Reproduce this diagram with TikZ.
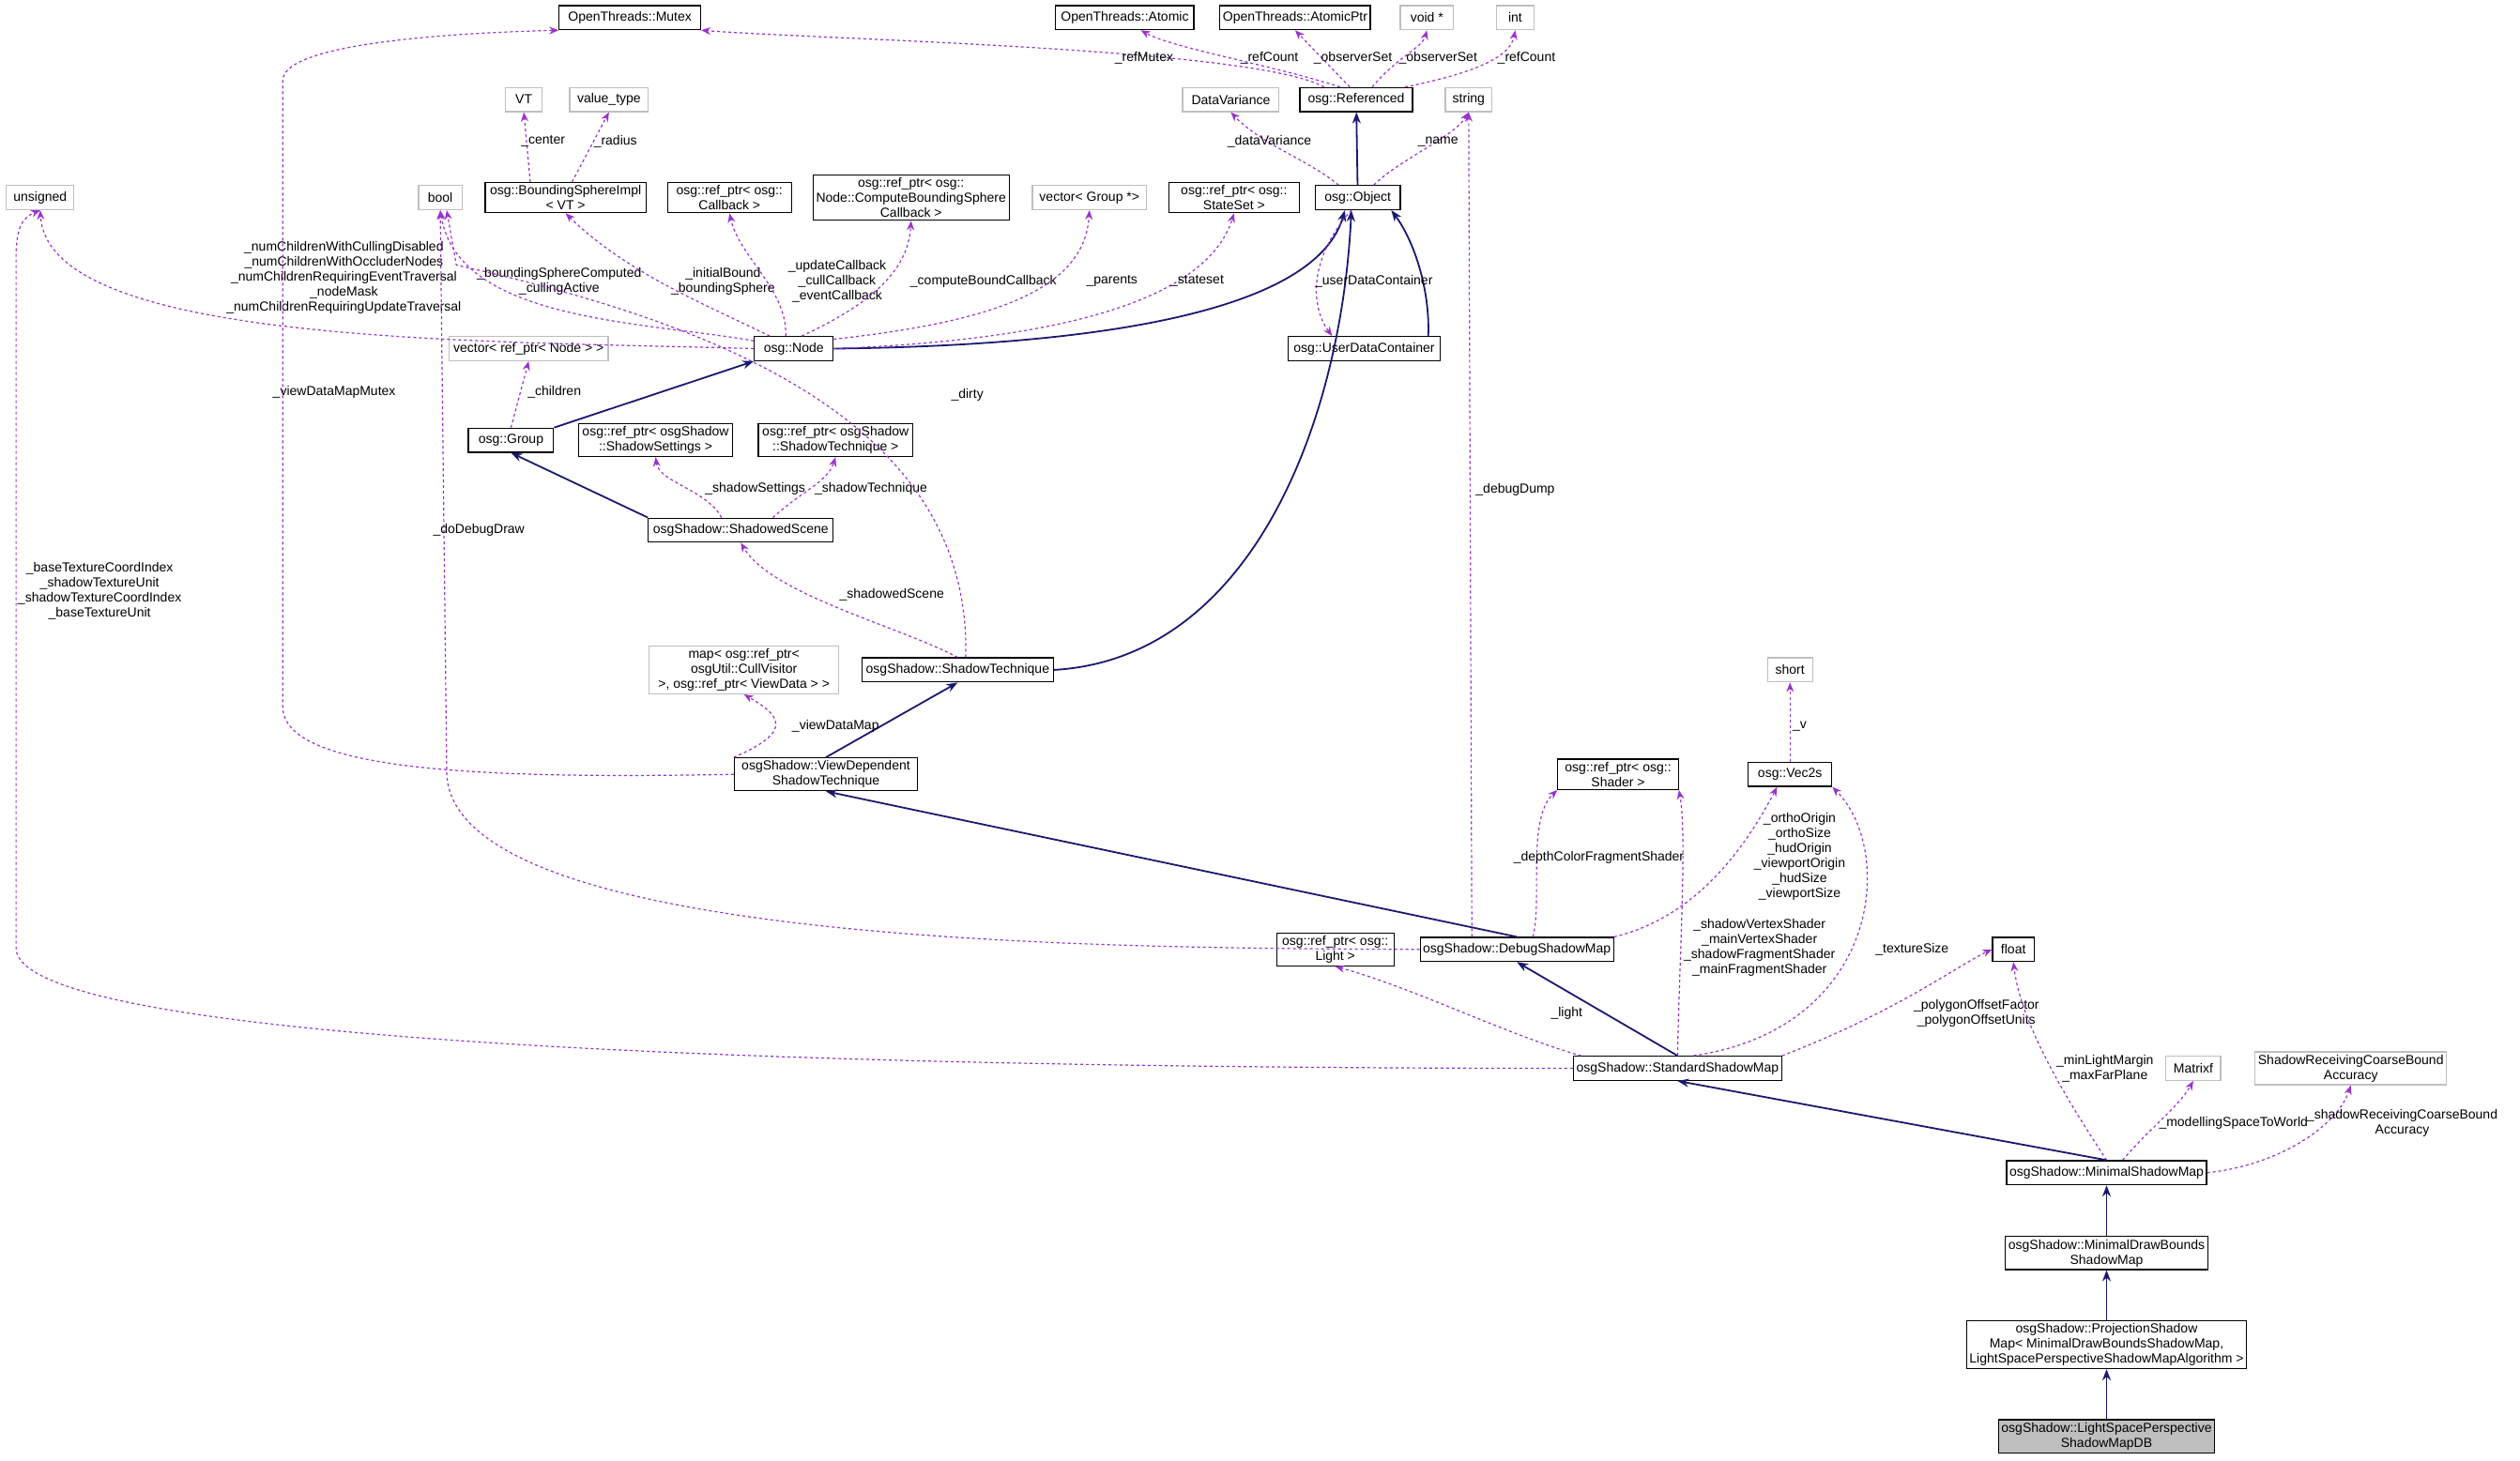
\documentclass[tikz,border=0pt]{standalone}
\usepackage{fontspec}
\setmainfont{Liberation Sans}
\usetikzlibrary{arrows.meta,calc}
\definecolor{dpurple}{HTML}{9A32CD}
\definecolor{dnavy}{HTML}{191970}
\definecolor{gborder}{HTML}{BFBFBF}
\tikzset{
 bx/.style={draw=black,line width=1.2pt,fill=white,font=\fontsize{14}{16}\selectfont,align=center,inner sep=3pt,minimum height={15*1.712pt},minimum width={#1*1.712pt}},
 gx/.style={bx=#1,draw=gborder},
 lab/.style={font=\fontsize{14}{16}\selectfont,align=center,inner sep=0pt},
 dep/.style={draw=dpurple,dashed,line width=1.2pt,-{Stealth[length=10pt,width=8pt]}},
 inh/.style={draw=dnavy,line width=1.8pt,-{Stealth[length=12pt,width=9pt]}},
}
\begin{document}
\begin{tikzpicture}[x=1.712pt,y=-1.712pt]
\useasboundingbox (0,0) rectangle (1568.3,909.4);
\node[bx=88] (mutex) at (392,11) {OpenThreads::Mutex};
\node[bx=86] (atomic) at (700,11) {OpenThreads::Atomic};
\node[bx=92] (atomicptr) at (806,11) {OpenThreads::AtomicPtr};
\node[gx=33] (voidp) at (888,11) {void *};
\node[gx=23] (int) at (943,11) {int};
\node[gx=23] (vt) at (326,62) {VT};
\node[gx=49] (valtype) at (379,62) {value\_type};
\node[gx=60] (datavar) at (766,62) {DataVariance};
\node[bx=70] (ref) at (844,62) {osg::Referenced};
\node[gx=29] (str) at (914,62) {string};
\node[gx=42] (unsigned) at (25,123) {unsigned};
\node[gx=27] (bool) at (274,123) {bool};
\node[bx=100] (bsi) at (352,123) {osg::BoundingSphereImpl\\< VT >};
\node[bx=77] (cb) at (454,123) {osg::ref\_ptr< osg::\\Callback >};
\node[bx=122] (cbs) at (567,123) {osg::ref\_ptr< osg::\\Node::ComputeBoundingSphere\\Callback >};
\node[gx=71] (vgroup) at (678,123) {vector< Group *>};
\node[bx=81] (ss) at (768,123) {osg::ref\_ptr< osg::\\StateSet >};
\node[bx=53] (obj) at (845,123) {osg::Object};
\node[bx=49] (node) at (494,217) {osg::Node};
\node[bx=95] (udc) at (849,217) {osg::UserDataContainer};
\node[gx=99] (vnode) at (329,217) {vector< ref\_ptr< Node > >};
\node[bx=53] (group) at (318,274) {osg::Group};
\node[bx=96] (shset) at (408,274) {osg::ref\_ptr< osgShadow\\::ShadowSettings >};
\node[bx=96] (shtech) at (520,274) {osg::ref\_ptr< osgShadow\\::ShadowTechnique >};
\node[bx=115] (sscene) at (461,330) {osgShadow::ShadowedScene};
\node[gx=118] (map) at (463,417) {map< osg::ref\_ptr<\\osgUtil::CullVisitor\\>, osg::ref\_ptr< ViewData > >};
\node[bx=119] (st) at (596,417) {osgShadow::ShadowTechnique};
\node[bx=114] (vd) at (514,482) {osgShadow::ViewDependent\\ShadowTechnique};
\node[gx=28] (short) at (1114,417) {short};
\node[bx=75] (shader) at (1007,482) {osg::ref\_ptr< osg::\\Shader >};
\node[bx=52] (vec) at (1114,482) {osg::Vec2s};
\node[bx=73] (light) at (831,591) {osg::ref\_ptr< osg::\\Light >};
\node[bx=120] (dbg) at (944,591) {osgShadow::DebugShadowMap};
\node[bx=26] (float) at (1253,591) {float};
\node[bx=129] (ssm) at (1044,665) {osgShadow::StandardShadowMap};
\node[gx=34] (matrixf) at (1365,665) {Matrixf};
\node[gx=119] (srcb) at (1463,665) {ShadowReceivingCoarseBound\\Accuracy};
\node[bx=124] (msm) at (1311,730) {osgShadow::MinimalShadowMap};
\node[bx=126] (mdb) at (1311,780) {osgShadow::MinimalDrawBounds\\ShadowMap};
\node[bx=174] (psm) at (1311,837) {osgShadow::ProjectionShadow\\Map< MinimalDrawBoundsShadowMap,\\LightSpacePerspectiveShadowMapAlgorithm >};
\node[bx=134,fill=gborder] (lsp) at (1311,894) {osgShadow::LightSpacePerspective\\ShadowMapDB};

% inheritance
\draw[inh] (obj) -- (ref);
\draw[inh] (node.east) .. controls (700,215) and (820,190) .. ($(obj.south)+(-8,0)$);
\draw[inh] ($(udc.north east)+(-8,0)$) .. controls (890,180) and (880,150) .. ($(obj.south east)+(-6,0)$);
\draw[inh] (st.east) .. controls (780,410) and (835,260) .. ($(obj.south)+(-4,0)$);
\draw[inh] (group.north east) -- (node.south west);
\draw[inh] (sscene.north west) -- (group.south);
\draw[inh] (vd.north) -- (st.south);
\draw[inh] (dbg.north) -- (vd.south);
\draw[inh] (ssm.north) -- (dbg.south);
\draw[inh] (msm.north) -- (ssm.south);
\draw[inh] (mdb) -- (msm);
\draw[inh] (psm) -- (mdb);
\draw[inh] (lsp) -- (psm);

% dependencies
\draw[dep] ($(ref.north)+(-20,0)$) .. controls (780,30) and (520,25) .. (mutex.south east);
\node[lab] (l1) at (712,36) {\_refMutex};
\draw[dep] ($(ref.north)+(-10,0)$) .. controls (790,40) and (730,30) .. ($(atomic.south)+(10,0)$);
\node[lab] (l2) at (790,36) {\_refCount};
\draw[dep] ($(ref.north)+(-4,0)$) -- (atomicptr.south);
\node[lab] (l3) at (842,36) {\_observerSet};
\draw[dep] ($(ref.north)+(10,0)$) .. controls (870,35) and (885,30) .. (voidp.south);
\node[lab] (l4) at (895,36) {\_observerSet};
\draw[dep] ($(ref.north east)+(-5,0)$) .. controls (920,45) and (940,35) .. (int.south);
\node[lab] (l5) at (950,36) {\_refCount};
\draw[dep] ($(bsi.north)+(-22,0)$) -- (vt.south);
\node[lab] (l6) at (338,88) {\_center};
\draw[dep] ($(bsi.north)+(4,0)$) -- (valtype.south);
\node[lab] (l7) at (383,88) {\_radius};
\draw[dep] ($(obj.north)+(-12,0)$) .. controls (815,100) and (785,90) .. (datavar.south);
\node[lab] (l8) at (790,88) {\_dataVariance};
\draw[dep] ($(obj.north)+(10,0)$) .. controls (870,100) and (905,85) .. (str.south);
\node[lab] (l9) at (895,88) {\_name};
\draw[dep] ($(obj.south)+(-4,0)$) .. controls (815,160) and (815,190) .. ($(udc.north)+(-20,0)$);
\node[lab] (l10) at (855,175) {\_userDataContainer};
\draw[dep] (node.west) .. controls (300,212) and (30,215) .. (unsigned.south);
\node[lab] (l11) at (214,173) {\_numChildrenWithCullingDisabled\\\_numChildrenWithOccluderNodes\\\_numChildrenRequiringEventTraversal\\\_nodeMask\\\_numChildrenRequiringUpdateTraversal};
\draw[dep] ($(node.north west)+(0,3)$) .. controls (400,200) and (285,200) .. (bool.south);
\node[lab] (l12) at (348,175) {\_boundingSphereComputed\\\_cullingActive};
\draw[dep] ($(node.north)+(-15,0)$) .. controls (440,190) and (390,170) .. (bsi.south);
\node[lab] (l13) at (450,175) {\_initialBound\\\_boundingSphere};
\draw[dep] ($(node.north)+(-5,0)$) .. controls (490,180) and (460,160) .. (cb.south);
\node[lab] (l14) at (521,175) {\_updateCallback\\\_cullCallback\\\_eventCallback};
\draw[dep] ($(node.north)+(5,0)$) .. controls (540,190) and (565,170) .. (cbs.south);
\node[lab] (l15) at (612,175) {\_computeBoundCallback};
\draw[dep] ($(node.north east)+(0,2)$) .. controls (620,200) and (675,180) .. (vgroup.south);
\node[lab] (l16) at (692,175) {\_parents};
\draw[dep] (node.east) .. controls (650,212) and (750,190) .. (ss.south);
\node[lab] (l17) at (745,175) {\_stateset};
\draw[dep] ($(group.north)+(0,0)$) -- (vnode.south);
\node[lab] (l18) at (345,244) {\_children};
\draw[dep] ($(sscene.north)+(-12,0)$) .. controls (440,305) and (410,300) .. (shset.south);
\node[lab] (l19) at (470,304) {\_shadowSettings};
\draw[dep] ($(sscene.north)+(20,0)$) .. controls (500,305) and (515,300) .. (shtech.south);
\node[lab] (l20) at (542,304) {\_shadowTechnique};
\draw[dep] (st.north) .. controls (560,390) and (480,370) .. (sscene.south);
\node[lab] (l21) at (555,370) {\_shadowedScene};
\draw[dep] ($(st.north)+(5,0)$) .. controls (605,260) and (440,200) .. (284,165) -- ($(bool.south)+(4,0)$);
\node[lab] (l22) at (602,246) {\_dirty};
\draw[dep] (vd.north west) .. controls (495,455) and (485,445) .. (map.south);
\node[lab] (l23) at (520,452) {\_viewDataMap};
\draw[dep] (vd.west) .. controls (300,485) and (176,480) .. (176,440) -- (176,50) .. controls (176,25) and (300,20) .. (mutex.south west);
\node[lab] (l24) at (208,244) {\_viewDataMapMutex};
\draw[dep] (dbg.west) .. controls (700,590) and (278,590) .. (278,480) -- (bool.south);
\node[lab] (l25) at (298,330) {\_doDebugDraw};
\draw[dep] ($(dbg.north)+(-28,0)$) -- (str.south);
\node[lab] (l26) at (943,305) {\_debugDump};
\draw[dep] ($(dbg.north)+(10,0)$) .. controls (960,560) and (950,510) .. (shader.south west);
\node[lab] (l27) at (995,534) {\_depthColorFragmentShader};
\draw[dep] (dbg.north east) .. controls (1060,570) and (1090,520) .. ($(vec.south)+(-8,0)$);
\node[lab] (l28) at (1120,533) {\_orthoOrigin\\\_orthoSize\\\_hudOrigin\\\_viewportOrigin\\\_hudSize\\\_viewportSize};
\draw[dep] (vec.north) -- (short.south);
\node[lab] (l29) at (1120,452) {\_v};
\draw[dep] ($(ssm.north west)+(5,0)$) .. controls (940,645) and (880,615) .. (light.south);
\node[lab] (l30) at (975,631) {\_light};
\draw[dep] ($(ssm.north)+(0,0)$) .. controls (1045,600) and (1050,520) .. (shader.south east);
\node[lab] (l31) at (1095,590) {\_shadowVertexShader\\\_mainVertexShader\\\_shadowFragmentShader\\\_mainFragmentShader};
\draw[dep] ($(ssm.north)+(10,0)$) .. controls (1170,640) and (1180,530) .. (vec.south east);
\node[lab] (l32) at (1190,591) {\_textureSize};
\draw[dep] (ssm.north east) .. controls (1180,630) and (1220,600) .. (float.west);
\node[lab] (l33) at (1230,631) {\_polygonOffsetFactor\\\_polygonOffsetUnits};
\draw[dep] (ssm.west) .. controls (600,665) and (10,655) .. (10,590) -- (10,160) .. controls (10,140) and (15,135) .. (unsigned.south);
\node[lab] (l34) at (62,368) {\_baseTextureCoordIndex\\\_shadowTextureUnit\\\_shadowTextureCoordIndex\\\_baseTextureUnit};
\draw[dep] (msm.north) .. controls (1290,690) and (1258,640) .. (float.south);
\node[lab] (l35) at (1310,665) {\_minLightMargin\\\_maxFarPlane};
\draw[dep] ($(msm.north)+(10,0)$) .. controls (1340,700) and (1355,690) .. (matrixf.south);
\node[lab] (l36) at (1390,699) {\_modellingSpaceToWorld};
\draw[dep] (msm.east) .. controls (1420,725) and (1455,700) .. (srcb.south);
\node[lab] (l37) at (1495,699) {\_shadowReceivingCoarseBound\\Accuracy};
\end{tikzpicture}
\end{document}
